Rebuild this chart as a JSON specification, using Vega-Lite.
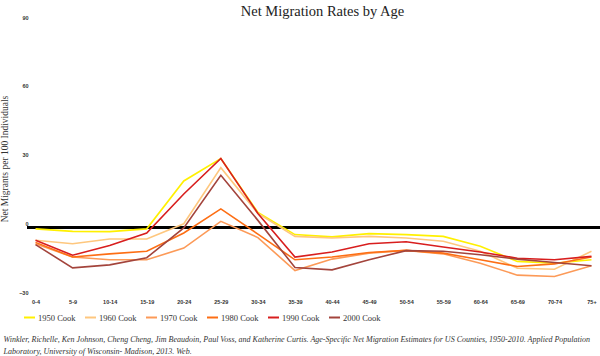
{
  "$schema": "https://vega.github.io/schema/vega-lite/v6.json",
  "width": 573,
  "height": 275,
  "autosize": "none",
  "padding": {"left": 27, "top": 21, "right": 0, "bottom": 60},
  "background": "white",
  "title": {
    "text": "Net Migration Rates by Age",
    "font": "Liberation Serif, serif",
    "fontSize": 14.5,
    "fontWeight": "normal",
    "color": "#222",
    "anchor": "middle",
    "dx": 9,
    "offset": -4
  },
  "data": {
    "values": [
      {"age":"0-4","year":"1950 Cook","v":-0.7},{"age":"5-9","year":"1950 Cook","v":-1.8},{"age":"10-14","year":"1950 Cook","v":-1.9},{"age":"15-19","year":"1950 Cook","v":-0.7},{"age":"20-24","year":"1950 Cook","v":20.2},{"age":"25-29","year":"1950 Cook","v":30},{"age":"30-34","year":"1950 Cook","v":6.5},{"age":"35-39","year":"1950 Cook","v":-3.2},{"age":"40-44","year":"1950 Cook","v":-4.2},{"age":"45-49","year":"1950 Cook","v":-2.8},{"age":"50-54","year":"1950 Cook","v":-3.2},{"age":"55-59","year":"1950 Cook","v":-4},{"age":"60-64","year":"1950 Cook","v":-8.3},{"age":"65-69","year":"1950 Cook","v":-14.9},{"age":"70-74","year":"1950 Cook","v":-15.7},{"age":"75+","year":"1950 Cook","v":-14.2},
      {"age":"0-4","year":"1960 Cook","v":-5.7},{"age":"5-9","year":"1960 Cook","v":-7.2},{"age":"10-14","year":"1960 Cook","v":-5.1},{"age":"15-19","year":"1960 Cook","v":-5.1},{"age":"20-24","year":"1960 Cook","v":1.5},{"age":"25-29","year":"1960 Cook","v":26},{"age":"30-34","year":"1960 Cook","v":6},{"age":"35-39","year":"1960 Cook","v":-4},{"age":"40-44","year":"1960 Cook","v":-4.7},{"age":"45-49","year":"1960 Cook","v":-4},{"age":"50-54","year":"1960 Cook","v":-4.7},{"age":"55-59","year":"1960 Cook","v":-6.1},{"age":"60-64","year":"1960 Cook","v":-10.5},{"age":"65-69","year":"1960 Cook","v":-17.9},{"age":"70-74","year":"1960 Cook","v":-18.3},{"age":"75+","year":"1960 Cook","v":-10.5},
      {"age":"0-4","year":"1970 Cook","v":-7.2},{"age":"5-9","year":"1970 Cook","v":-13},{"age":"10-14","year":"1970 Cook","v":-14.2},{"age":"15-19","year":"1970 Cook","v":-14.2},{"age":"20-24","year":"1970 Cook","v":-9.1},{"age":"25-29","year":"1970 Cook","v":2.6},{"age":"30-34","year":"1970 Cook","v":-4.5},{"age":"35-39","year":"1970 Cook","v":-18.9},{"age":"40-44","year":"1970 Cook","v":-13.9},{"age":"45-49","year":"1970 Cook","v":-11.3},{"age":"50-54","year":"1970 Cook","v":-10.1},{"age":"55-59","year":"1970 Cook","v":-11.6},{"age":"60-64","year":"1970 Cook","v":-15.7},{"age":"65-69","year":"1970 Cook","v":-20.9},{"age":"70-74","year":"1970 Cook","v":-21.5},{"age":"75+","year":"1970 Cook","v":-16.8},
      {"age":"0-4","year":"1980 Cook","v":-6.6},{"age":"5-9","year":"1980 Cook","v":-13},{"age":"10-14","year":"1980 Cook","v":-11.6},{"age":"15-19","year":"1980 Cook","v":-10.5},{"age":"20-24","year":"1980 Cook","v":-2.5},{"age":"25-29","year":"1980 Cook","v":8},{"age":"30-34","year":"1980 Cook","v":-3},{"age":"35-39","year":"1980 Cook","v":-14.2},{"age":"40-44","year":"1980 Cook","v":-13},{"age":"45-49","year":"1980 Cook","v":-11},{"age":"50-54","year":"1980 Cook","v":-10.1},{"age":"55-59","year":"1980 Cook","v":-11.3},{"age":"60-64","year":"1980 Cook","v":-14.2},{"age":"65-69","year":"1980 Cook","v":-17.1},{"age":"70-74","year":"1980 Cook","v":-16},{"age":"75+","year":"1980 Cook","v":-13},
      {"age":"0-4","year":"1990 Cook","v":-5.7},{"age":"5-9","year":"1990 Cook","v":-12.2},{"age":"10-14","year":"1990 Cook","v":-8},{"age":"15-19","year":"1990 Cook","v":-2.5},{"age":"20-24","year":"1990 Cook","v":14.5},{"age":"25-29","year":"1990 Cook","v":30},{"age":"30-34","year":"1990 Cook","v":6},{"age":"35-39","year":"1990 Cook","v":-13},{"age":"40-44","year":"1990 Cook","v":-10.8},{"age":"45-49","year":"1990 Cook","v":-7.2},{"age":"50-54","year":"1990 Cook","v":-6.3},{"age":"55-59","year":"1990 Cook","v":-8.6},{"age":"60-64","year":"1990 Cook","v":-10.8},{"age":"65-69","year":"1990 Cook","v":-13.5},{"age":"70-74","year":"1990 Cook","v":-14.2},{"age":"75+","year":"1990 Cook","v":-12.7},
      {"age":"0-4","year":"2000 Cook","v":-7.6},{"age":"5-9","year":"2000 Cook","v":-17.7},{"age":"10-14","year":"2000 Cook","v":-16.4},{"age":"15-19","year":"2000 Cook","v":-13.3},{"age":"20-24","year":"2000 Cook","v":-0.3},{"age":"25-29","year":"2000 Cook","v":22.7},{"age":"30-34","year":"2000 Cook","v":3},{"age":"35-39","year":"2000 Cook","v":-17.6},{"age":"40-44","year":"2000 Cook","v":-18.6},{"age":"45-49","year":"2000 Cook","v":-14.2},{"age":"50-54","year":"2000 Cook","v":-10.2},{"age":"55-59","year":"2000 Cook","v":-10.5},{"age":"60-64","year":"2000 Cook","v":-12},{"age":"65-69","year":"2000 Cook","v":-13.9},{"age":"70-74","year":"2000 Cook","v":-15.4},{"age":"75+","year":"2000 Cook","v":-16.8}
    ]
  },
  "layer": [
    {
      "mark": {"type": "rule", "color": "#000", "strokeWidth": 2},
      "encoding": {"y": {"datum": 0, "type": "quantitative"}}
    },
    {
      "mark": {"type": "line", "strokeWidth": 1.6},
      "encoding": {
        "x": {
          "field": "age", "type": "ordinal", "sort": null,
          "scale": {"type": "point", "padding": 0.23},
          "axis": {
            "labelAngle": 0, "labelFont": "Liberation Sans", "labelFontSize": 5.5, "labelFontWeight": "bold",
            "labelColor": "#333", "labelPadding": 3, "ticks": false, "domain": false, "grid": false,
            "title": ["Winkler, Richelle, Ken Johnson, Cheng Cheng, Jim Beaudoin, Paul Voss, and Katherine Curtis. Age-Specific Net Migration Estimates for US Counties, 1950-2010. Applied Population", "Laboratory, University of Wisconsin- Madison, 2013. Web."],
            "titleFont": "Liberation Serif, serif", "titleFontStyle": "italic", "titleFontWeight": "normal", "titleFontSize": 8,
            "titleColor": "#333", "titleAnchor": "start", "titleAlign": "left", "titleBaseline": "alphabetic",
            "titleX": -24, "titleY": 45, "titleLineHeight": 12
          }
        },
        "y": {
          "field": "v", "type": "quantitative",
          "scale": {"domain": [-30, 90], "nice": false, "zero": false},
          "axis": {
            "values": [-30, 0, 30, 60, 90], "ticks": false, "domain": false,
            "labelFont": "Liberation Sans", "labelFontSize": 5.5, "labelFontWeight": "bold", "labelColor": "#333",
            "labelAlign": "right", "labelBaseline": "bottom", "labelPadding": -1, "labelOffset": -1,
            "gridColor": "#dddddd", "gridWidth": 1,
            "title": "Net Migrants per 100 Individuals", "titleFont": "Liberation Serif, serif", "titleFontWeight": "normal",
            "titleFontSize": 9.5, "titleColor": "#333", "titlePadding": 9
          }
        },
        "color": {
          "field": "year", "type": "nominal",
          "scale": {
            "domain": ["1950 Cook", "1960 Cook", "1970 Cook", "1980 Cook", "1990 Cook", "2000 Cook"],
            "range": ["#fff000", "#fec77e", "#fc9a58", "#fd6e14", "#d81e1e", "#a3443c"]
          },
          "legend": {
            "title": null, "orient": "none", "direction": "horizontal", "columns": 6,
            "legendX": -4, "legendY": 290,
            "symbolType": "stroke", "symbolSize": 121, "symbolStrokeWidth": 2,
            "labelFont": "Liberation Serif, serif", "labelFontSize": 8.5, "labelColor": "#333",
            "labelOffset": 2, "columnPadding": 5
          }
        }
      }
    }
  ],
  "config": {
    "view": {"stroke": null},
    "legend": {"labelFont": "Liberation Serif, serif"}
  }
}
